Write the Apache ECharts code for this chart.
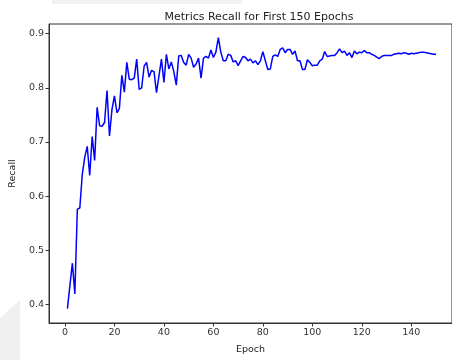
<!DOCTYPE html>
<html><head><meta charset="utf-8">
<script src="https://cdn.jsdelivr.net/npm/echarts@6/dist/echarts.min.js"></script>
<style>html,body{margin:0;padding:0;background:#fff}#c{width:452px;height:360px}</style>
</head><body><div id="c"></div>
<script>
const epochs = Array.from({length:150},(_,i)=>i+1);
const recall = [
0.392,0.435,0.476,0.419,0.576,0.578,0.640,0.672,0.692,0.638,
0.710,0.666,0.764,0.730,0.729,0.736,0.795,0.711,0.760,0.785,
0.754,0.762,0.823,0.792,0.847,0.816,0.815,0.818,0.853,0.797,
0.800,0.840,0.847,0.820,0.832,0.830,0.791,0.822,0.853,0.810,
0.862,0.835,0.848,0.830,0.805,0.859,0.860,0.847,0.842,0.862,
0.855,0.838,0.844,0.855,0.818,0.855,0.858,0.855,0.870,0.856,
0.866,0.893,0.866,0.850,0.850,0.862,0.860,0.848,0.850,0.841,
0.850,0.858,0.856,0.850,0.853,0.846,0.850,0.843,0.850,0.867,
0.850,0.834,0.835,0.858,0.861,0.858,0.871,0.874,0.865,0.871,
0.871,0.862,0.868,0.850,0.850,0.834,0.834,0.852,0.847,0.841,
0.842,0.842,0.850,0.853,0.867,0.858,0.859,0.860,0.860,0.865,
0.872,0.865,0.868,0.860,0.865,0.856,0.868,0.863,0.866,0.865,
0.869,0.865,0.865,0.862,0.860,0.857,0.854,0.858,0.860,0.860,
0.860,0.860,0.862,0.863,0.864,0.863,0.865,0.864,0.862,0.864,
0.863,0.864,0.865,0.866,0.866,0.865,0.864,0.863,0.862,0.862];
const xTicks = [0,20,40,60,80,100,120,140];
const yTicks = [0.4,0.5,0.6,0.7,0.8,0.9];

const chart = echarts.init(document.getElementById('c'), null, {renderer:'canvas'});
const font = 'DejaVu Sans';
chart.setOption({
  animation:false,
  backgroundColor:'#fff',
  title:{text:'Metrics Recall for First 150 Epochs', left:254, top:7, textAlign:'center',
    textStyle:{fontFamily:font, fontSize:11, fontWeight:'normal', color:'#222'}},
  graphic:[
    {type:'rect', shape:{x:52,y:0,width:190,height:4}, style:{fill:'#f1f1f1'}, silent:true},
    {type:'polygon', shape:{points:[[0,318],[20,300],[20,360],[0,360]]}, style:{fill:'#f0f0f0'}, silent:true}
  ],
  grid:{left:49, top:24, width:407, height:305, show:true, borderColor:'#333', borderWidth:1, containLabel:false},
  xAxis:{type:'value', min:-6.45, max:156.45, name:'Epoch', nameLocation:'middle', nameGap:22,
    nameTextStyle:{fontFamily:font, fontSize:9.5, color:'#222'},
    axisLine:{show:true, onZero:false, lineStyle:{color:'#333'}},
    axisTick:{show:true, length:3.5, lineStyle:{color:'#333'}, customValues:xTicks},
    axisLabel:{fontFamily:font, fontSize:9.5, color:'#333', margin:5, customValues:xTicks, formatter:v=>String(v)},
    splitLine:{show:false}},
  yAxis:{type:'value', min:0.3655, max:0.918, name:'Recall', nameLocation:'middle', nameGap:27,
    nameTextStyle:{fontFamily:font, fontSize:9.5, color:'#222'},
    axisLine:{show:true, onZero:false, lineStyle:{color:'#333'}},
    axisTick:{show:true, length:3.5, lineStyle:{color:'#333'}, customValues:yTicks},
    axisLabel:{fontFamily:font, fontSize:9.5, color:'#333', margin:5, customValues:yTicks, formatter:v=>v.toFixed(1)},
    splitLine:{show:false}},
  series:[{type:'line', data:epochs.map((e,i)=>[e,recall[i]]), showSymbol:false, symbol:'none',
    lineStyle:{color:'#0000ff', width:1.5}, clip:true}]
});
</script></body></html>
